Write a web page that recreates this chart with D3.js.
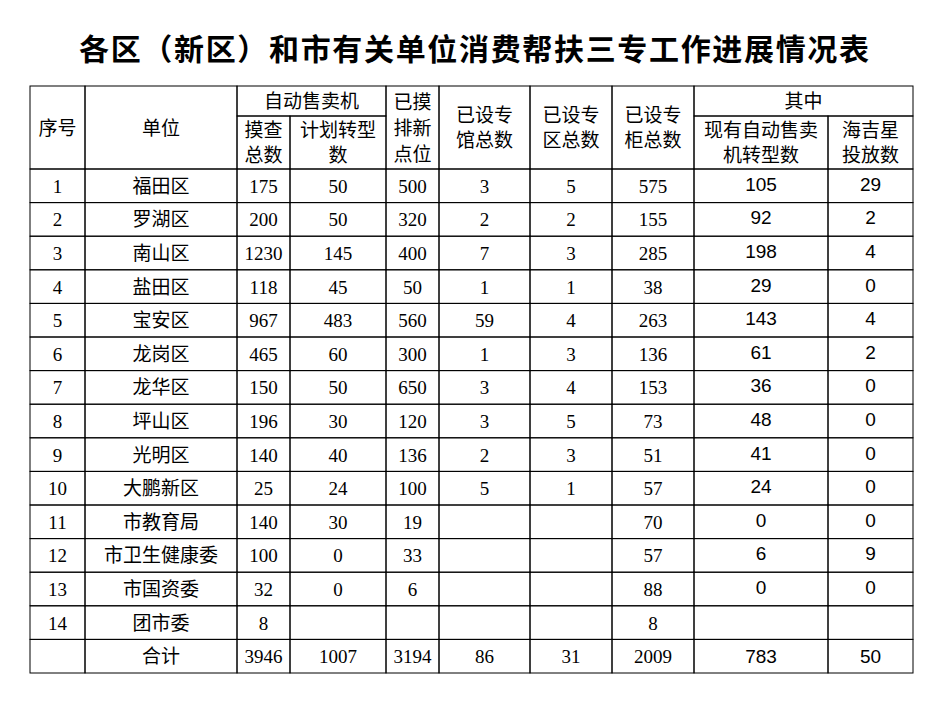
<!DOCTYPE html>
<html><head><meta charset="utf-8">
<script src="https://cdn.jsdelivr.net/npm/d3@7"></script>
<style>body{margin:0;background:#fff}</style>
</head><body><svg width="948" height="711"></svg>
<script>
// table data
const units = ["福田区","罗湖区","南山区","盐田区","宝安区","龙岗区","龙华区","坪山区","光明区","大鹏新区","市教育局","市卫生健康委","市国资委","团市委"]
const surveyed = [175,200,1230,118,967,465,150,196,140,25,140,100,32,8]
const planned = [50,50,145,45,483,60,50,30,40,24,30,0,0,""]
const newPoints = [500,320,400,50,560,300,650,120,136,100,19,33,6,""]
const halls = [3,2,7,1,59,1,3,3,2,5,"","","",""]
const zones = [5,2,3,1,4,3,4,5,3,1,"","","",""]
const cabinets = [575,155,285,38,263,136,153,73,51,57,70,57,88,8]
const converted = [105,92,198,29,143,61,36,48,41,24,0,6,0,""]
const hjx = [29,2,4,0,4,2,0,0,0,0,0,9,0,""]
const totals = ["","合计",3946,1007,3194,86,31,2009,783,50]

const colEdges = [30,85,237,290,386,439,530,612,694,828,913]
const svg = d3.select("svg")
const serif = "'Liberation Serif','Noto Sans CJK SC',serif"
const cjk = "'Noto Sans CJK SC',sans-serif"

svg.append("text").attr("x",474).attr("y",60).attr("text-anchor","middle")
  .attr("font-family",cjk).attr("font-weight","bold").attr("font-size",30)
  .attr("textLength",790).attr("lengthAdjust","spacing")
  .text("各区（新区）和市有关单位消费帮扶三专工作进展情况表")

const rows = units.map((u,i)=>[i+1,u,surveyed[i],planned[i],newPoints[i],halls[i],zones[i],cabinets[i],converted[i],hjx[i]])
rows.push(totals)

const y = d3.scaleBand().domain(d3.range(rows.length)).range([169,673])
const g = svg.append("g").attr("stroke","#000").attr("stroke-width",1)

// body grid
rows.forEach((r,i)=>{
  r.forEach((v,j)=>{
    g.append("rect").attr("x",colEdges[j]).attr("y",y(i))
      .attr("width",colEdges[j+1]-colEdges[j]).attr("height",y.bandwidth()).attr("fill","none")
    svg.append("text").attr("x",(colEdges[j]+colEdges[j+1])/2)
      .attr("y",y(i)+y.bandwidth()/2+(j>=8 && i<rows.length-1 ? 5 : 7))
      .attr("text-anchor","middle").attr("font-size",19)
      .attr("font-family", j>=8 ? "'Liberation Sans',sans-serif" : (typeof v==="string"? cjk : serif))
      .text(v)
  })
})

// header cells: [col start, col end, y0, y1, lines]
const header = [
  [0,1,86,169,["序号"]],[1,2,86,169,["单位"]],
  [2,4,86,116,["自动售卖机"]],[2,3,116,169,["摸查","总数"]],[3,4,116,169,["计划转型","数"]],
  [4,5,86,169,["已摸","排新","点位"]],[5,6,86,169,["已设专","馆总数"]],
  [6,7,86,169,["已设专","区总数"]],[7,8,86,169,["已设专","柜总数"]],
  [8,10,86,116,["其中"]],[8,9,116,169,["现有自动售卖","机转型数"]],[9,10,116,169,["海吉星","投放数"]]
]
header.forEach(([a,b,y0,y1,lines])=>{
  g.append("rect").attr("x",colEdges[a]).attr("y",y0).attr("width",colEdges[b]-colEdges[a])
    .attr("height",y1-y0).attr("fill","none")
  const lh = lines.length===3 ? 26 : 25
  const cy = (lines.length===1 && y1-y0>60) ? 128 : (y0+y1)/2
  lines.forEach((t,k)=>{
    svg.append("text").attr("x",(colEdges[a]+colEdges[b])/2)
      .attr("y",cy+(k-(lines.length-1)/2)*lh+7).attr("text-anchor","middle")
      .attr("font-family",cjk).attr("font-size",19).text(t)
  })
})
</script></body></html>
